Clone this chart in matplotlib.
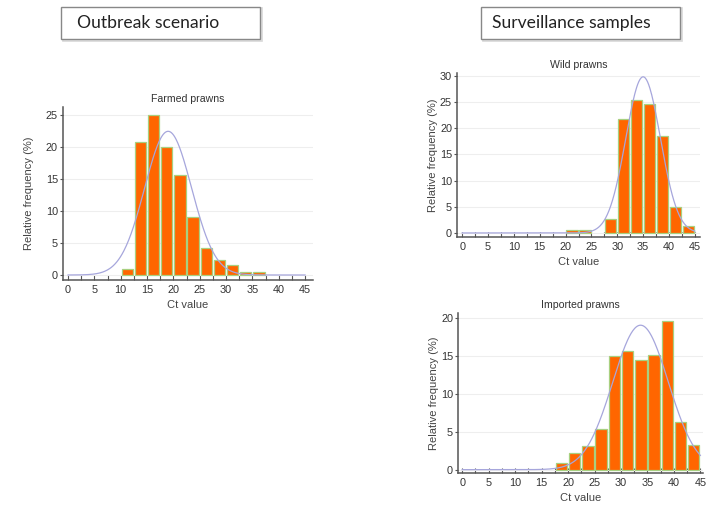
import numpy as np
import matplotlib
matplotlib.use("Agg")
import matplotlib.pyplot as plt
from matplotlib.patches import Rectangle

plt.rcParams['font.family'] = ['Liberation Sans', 'DejaVu Sans']

# bins are 2.5 Ct units wide, values are relative frequency in %
bin_width = 2.5

farmed_left = [10, 12.5, 15, 17.5, 20, 22.5, 25, 27.5, 30, 32.5, 35]
farmed_freq = [1.0, 20.7, 25.0, 19.9, 15.6, 9.0, 4.2, 2.4, 1.5, 0.5, 0.5]

wild_left = [20, 22.5, 25, 27.5, 30, 32.5, 35, 37.5, 40, 42.5]
wild_freq = [0.5, 0.5, 0.0, 2.7, 21.7, 25.4, 24.5, 18.5, 5.0, 1.3]

imported_left = [17.5, 20, 22.5, 25, 27.5, 30, 32.5, 35, 37.5, 40, 42.5]
imported_freq = [0.85, 2.2, 3.1, 5.4, 15.0, 15.6, 14.4, 15.1, 19.6, 6.3, 3.25]

# fitted normal curves (mean, sd)
farmed_fit = (19.0, 4.45)
wild_fit = (35.0, 3.35)
imported_fit = (33.7, 5.25)

x_ticks = [0, 5, 10, 15, 20, 25, 30, 35, 40, 45]

W, H = 712, 507
fig = plt.figure(figsize=(W / 100, H / 100), dpi=100)


def add_axes_px(left, top, right, bottom):
    return fig.add_axes([left / W, (H - bottom) / H, (right - left) / W, (bottom - top) / H])


def panel(ax, title, left_edges, freq, fit, xlim, ylim, yticks, ylab_x, xlab_y):
    left_edges = np.array(left_edges)
    freq = np.array(freq)
    keep = freq > 0
    ax.bar(left_edges[keep] + bin_width / 2, freq[keep], width=2.15,
           color='#ff6600', edgecolor='#a8d080', linewidth=0.9, zorder=2)

    xs = np.linspace(0, 45, 400)
    mu, sd = fit
    curve = 100 * bin_width * np.exp(-0.5 * ((xs - mu) / sd) ** 2) / (sd * np.sqrt(2 * np.pi))
    ax.plot(xs, curve, color='#a6a6dc', lw=0.9, zorder=3)

    ax.set_xlim(*xlim)
    ax.set_ylim(*ylim)
    ax.set_xticks(x_ticks)
    ax.set_xticks(np.arange(0, 45.1, 2.5), minor=True)
    ax.set_yticks(yticks)
    ax.yaxis.grid(True, color='#eeeeee', lw=0.8, zorder=0)
    ax.set_axisbelow(True)

    for s in ['top', 'right']:
        ax.spines[s].set_visible(False)
    for s in ['left', 'bottom']:
        ax.spines[s].set_color('#555555')
        ax.spines[s].set_linewidth(1.1)

    ax.tick_params(axis='x', which='both', direction='in', length=3.3, width=0.8,
                   color='#555555', labelsize=7.8, labelcolor='#333333', pad=3.5)
    ax.tick_params(axis='y', direction='out', length=2.4, width=0.8,
                   color='#555555', labelsize=7.8, labelcolor='#333333', pad=1.2)

    ax.set_title(title, fontsize=7.6, color='#333333', pad=3.5)
    ax.set_xlabel('Ct value', fontsize=8, color='#444444', va='center')
    ax.set_ylabel('Relative frequency (%)', fontsize=8, color='#444444', va='center')
    ax.xaxis.set_label_coords(0.5, xlab_y)
    ax.yaxis.set_label_coords(ylab_x, 0.5)


ax1 = add_axes_px(63, 107, 313, 280)
panel(ax1, 'Farmed prawns', farmed_left, farmed_freq, farmed_fit,
      (-0.95, 46.5), (-0.78, 26.2), [0, 5, 10, 15, 20, 25], -0.135, -0.145)

ax2 = add_axes_px(457, 73, 700, 237)
panel(ax2, 'Wild prawns', wild_left, wild_freq, wild_fit,
      (-1.0, 46.0), (-0.77, 30.5), [0, 5, 10, 15, 20, 25, 30], -0.097, -0.153)

ax3 = add_axes_px(458, 313, 703, 473)
panel(ax3, 'Imported prawns', imported_left, imported_freq, imported_fit,
      (-0.8, 45.5), (-0.44, 20.6), [0, 5, 10, 15, 20], -0.097, -0.156)

# header boxes
for (bx0, bx1, label, tx) in [(61, 260, 'Outbreak scenario', 77),
                              (481, 680, 'Surveillance samples', 492)]:
    shadow = Rectangle((bx0 / W + 1.5 / W, (H - 40.5) / H), (bx1 - bx0) / W, 32.5 / H,
                       transform=fig.transFigure, facecolor='none',
                       edgecolor='#d8d8d8', lw=1.2)
    fig.patches.append(shadow)
    box = Rectangle((bx0 / W, (H - 39.3) / H), (bx1 - bx0) / W, 32.6 / H,
                    transform=fig.transFigure, facecolor='white',
                    edgecolor='#888888', lw=1.0)
    fig.patches.append(box)
    fig.text(tx / W, (H - 23) / H, label, fontsize=12.6, family=['Lato', 'DejaVu Sans'],
             color='#222222', va='center', ha='left')

fig.savefig('out.png', dpi=100, facecolor='white')
